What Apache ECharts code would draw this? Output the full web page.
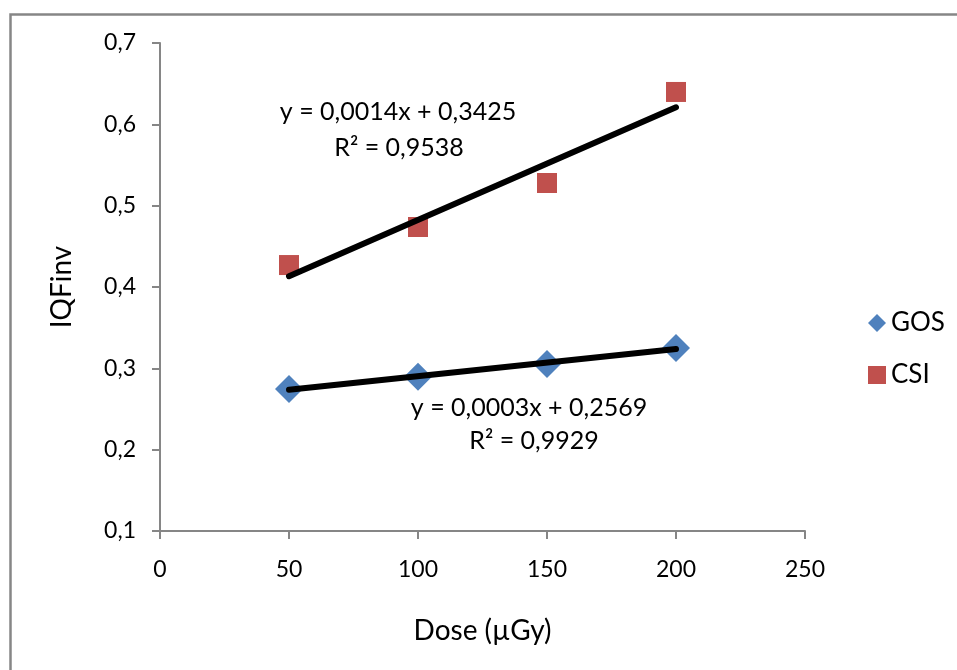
<!DOCTYPE html>
<html>
<head>
<meta charset="utf-8">
<script src="https://cdn.jsdelivr.net/npm/echarts@6/dist/echarts.min.js"></script>
<style>
html,body{margin:0;padding:0;background:#fff;}
#chart{width:957px;height:670px;}
</style>
</head>
<body>
<div id="chart"></div>
<script>
// Data
var doses = [50, 100, 150, 200];
var gosValues = [0.2746, 0.2897, 0.3053, 0.3250];
var csiValues = [0.4270, 0.4738, 0.5279, 0.6398];
var seriesNames = ['GOS', 'CSI'];
var csiEq = ['y = 0,0014x + 0,3425', 'R² = 0,9538'];
var gosEq = ['y = 0,0003x + 0,2569', 'R² = 0,9929'];
var xTitle = 'Dose (µGy)';
var yTitle = 'IQFinv';

function regression(xs, ys) {
  var n = xs.length, mx = 0, my = 0;
  for (var i = 0; i < n; i++) { mx += xs[i]; my += ys[i]; }
  mx /= n; my /= n;
  var sxy = 0, sxx = 0;
  for (var j = 0; j < n; j++) { sxy += (xs[j] - mx) * (ys[j] - my); sxx += (xs[j] - mx) * (xs[j] - mx); }
  var b = sxy / sxx, a = my - b * mx;
  var x0 = xs[0], x1 = xs[n - 1];
  return [[x0, a + b * x0], [x1, a + b * x1]];
}

function pairs(xs, ys) { return xs.map(function (x, i) { return [x, ys[i]]; }); }

var FONT = 'Lato';
var chart = echarts.init(document.getElementById('chart'));
chart.setOption({
  animation: false,
  backgroundColor: '#ffffff',
  grid: { left: 160, right: 152, top: 43, bottom: 139, containLabel: false },
  xAxis: {
    type: 'value', min: 0, max: 250, interval: 50,
    name: xTitle, nameLocation: 'middle', nameGap: 86,
    nameTextStyle: { fontFamily: FONT, fontSize: 28, color: '#000' },
    axisLine: { show: true, onZero: false, lineStyle: { color: '#868686', width: 2 } },
    axisTick: { show: true, inside: false, length: 8, lineStyle: { color: '#868686', width: 2 } },
    axisLabel: { fontFamily: FONT, fontSize: 23, color: '#000', margin: 27 },
    splitLine: { show: false }
  },
  yAxis: {
    type: 'value', min: 0.1, max: 0.7, interval: 0.1,
    name: yTitle, nameLocation: 'middle', nameGap: 84, nameRotate: 90,
    nameTextStyle: { fontFamily: FONT, fontSize: 28, color: '#000' },
    axisLine: { show: true, onZero: false, lineStyle: { color: '#868686', width: 2 } },
    axisTick: { show: true, inside: false, length: 8, lineStyle: { color: '#868686', width: 2 } },
    axisLabel: {
      fontFamily: FONT, fontSize: 23, color: '#000', margin: 24,
      formatter: function (v) { return v.toFixed(1).replace('.', ','); }
    },
    splitLine: { show: false }
  },
  legend: {
    orient: 'vertical', left: 863, top: 305, itemWidth: 18, itemHeight: 18, itemGap: 26,
    textStyle: { fontFamily: FONT, fontSize: 26, color: '#000' },
    data: [{ name: seriesNames[0], icon: 'diamond' }, { name: seriesNames[1], icon: 'rect' }]
  },
  series: [
    {
      name: seriesNames[0], type: 'scatter', data: pairs(doses, gosValues),
      symbol: 'diamond', symbolSize: 28, itemStyle: { color: '#4F81BD', opacity: 1 }, z: 2
    },
    {
      name: seriesNames[1], type: 'scatter', data: pairs(doses, csiValues),
      symbol: 'rect', symbolSize: 20, itemStyle: { color: '#C0504D', opacity: 1 }, z: 2
    },
    {
      name: 'GOS trend', type: 'line', data: regression(doses, gosValues), showSymbol: false, symbol: 'none',
      lineStyle: { color: '#000', width: 6, cap: 'round' }, z: 3, silent: true
    },
    {
      name: 'CSI trend', type: 'line', data: regression(doses, csiValues), showSymbol: false, symbol: 'none',
      lineStyle: { color: '#000', width: 6, cap: 'round' }, z: 3, silent: true
    }
  ],
  graphic: [
    {
      type: 'rect', left: 8, top: 12, z: 100, silent: true,
      shape: { x: 0, y: 0, width: 1100, height: 800 },
      style: { fill: 'none', stroke: '#868686', lineWidth: 2.5 }
    },
    {
      type: 'text', x: 398, y: 112, z: 50,
      style: { text: csiEq[0], font: '25px ' + FONT, fill: '#000', textAlign: 'center', textVerticalAlign: 'middle' }
    },
    {
      type: 'text', x: 399, y: 148, z: 50,
      style: { text: csiEq[1], font: '25px ' + FONT, fill: '#000', textAlign: 'center', textVerticalAlign: 'middle' }
    },
    {
      type: 'text', x: 529, y: 408, z: 50,
      style: { text: gosEq[0], font: '25px ' + FONT, fill: '#000', textAlign: 'center', textVerticalAlign: 'middle' }
    },
    {
      type: 'text', x: 534, y: 441, z: 50,
      style: { text: gosEq[1], font: '25px ' + FONT, fill: '#000', textAlign: 'center', textVerticalAlign: 'middle' }
    }
  ]
});
</script>
</body>
</html>
